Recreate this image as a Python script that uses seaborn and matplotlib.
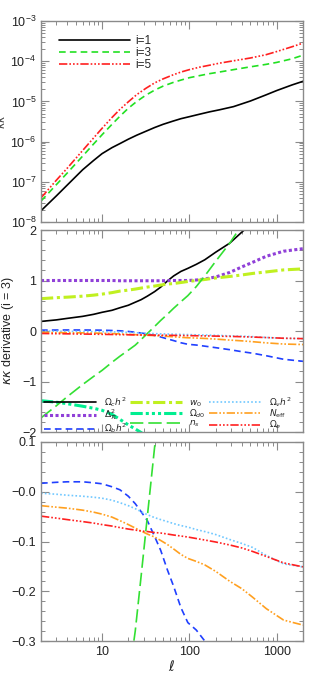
import numpy as np
import pandas as pd
import matplotlib
matplotlib.use("Agg")
import matplotlib.pyplot as plt
import matplotlib.ticker as mticker
import seaborn as sns

# ---------------- data ----------------
ell_top = [2, 3, 4, 6, 8, 10, 13, 16, 20, 25, 32, 40, 50, 65, 80, 100, 130, 170, 220, 320,
           500, 750, 1000, 1500, 2000]
log_kk_i1 = [-7.72, -7.35, -7.08, -6.70, -6.47, -6.30, -6.15, -6.05, -5.94, -5.84, -5.74,
             -5.65, -5.57, -5.49, -5.43, -5.38, -5.32, -5.26, -5.21, -5.13, -4.99, -4.84,
             -4.73, -4.59, -4.50]
log_kk_i3 = [-7.48, -7.07, -6.78, -6.36, -6.06, -5.83, -5.57, -5.37, -5.17, -5.00, -4.84,
             -4.72, -4.62, -4.53, -4.47, -4.41, -4.36, -4.31, -4.27, -4.21, -4.14, -4.08,
             -4.03, -3.94, -3.85]
log_kk_i5 = [-7.40, -6.96, -6.66, -6.22, -5.91, -5.67, -5.40, -5.20, -5.01, -4.83, -4.67,
             -4.54, -4.44, -4.34, -4.27, -4.21, -4.15, -4.10, -4.05, -3.99, -3.92, -3.84,
             -3.76, -3.64, -3.55]
top_labels = ["i=1", "i=3", "i=5"]

ell_d = [2, 3, 4, 6, 8, 10, 13, 16, 20, 24, 28, 33, 40, 47, 56, 66, 80, 96, 120, 150, 200,
         290, 400, 530, 760, 1200, 2000]
nan = np.nan
d_omch2 = [0.19, 0.22, 0.25, 0.29, 0.33, 0.37, 0.41, 0.46, 0.51, 0.57, 0.62, 0.69, 0.78, 0.87,
           0.99, 1.09, 1.18, 1.24, 1.32, 1.41, 1.56, 1.74, 1.96, 2.15, nan, nan, nan]
d_delta = [1.0, 1.0, 1.0, 1.0, 1.0, 1.0, 1.0, 0.995, 0.995, 0.995, 0.995, 0.995, 0.995, 0.995,
           0.997, 1.0, 1.0, 1.0, 1.01, 1.03, 1.07, 1.16, 1.27, 1.36, 1.48, 1.58, 1.63]
d_ombh2 = [0.017, 0.019, 0.020, 0.020, 0.018, 0.016, 0.010, 0.004, -0.009, -0.024, -0.040,
           -0.058, -0.090, -0.118, -0.157, -0.190, -0.233, -0.263, -0.278, -0.300, -0.33,
           -0.37, -0.41, -0.44, -0.49, -0.56, -0.60]
d_w0 = [0.64, 0.66, 0.67, 0.69, 0.71, 0.73, 0.76, 0.79, 0.81, 0.83, 0.85, 0.87, 0.89, 0.91,
        0.93, 0.94, 0.96, 0.98, 1.00, 1.02, 1.05, 1.08, 1.11, 1.14, 1.17, 1.21, 1.23]
d_omd0 = [-1.38, -1.41, -1.44, -1.49, -1.53, -1.57, -1.65, -1.75, -1.86, -1.94, -2.01, -2.10,
          nan, nan, nan, nan, nan, nan, nan, nan, nan, nan, nan, nan, nan, nan, nan]
d_ns = [-1.72, -1.48, -1.30, -1.06, -0.90, -0.78, -0.62, -0.50, -0.38, -0.28, -0.17, -0.05,
        0.09, 0.21, 0.33, 0.45, 0.58, 0.70, 0.88, 1.09, 1.38, 1.74, 2.10, nan, nan, nan, nan]
d_omnuh2 = [-0.003, -0.005, -0.007, -0.009, -0.011, -0.013, -0.017, -0.022, -0.028, -0.034,
            -0.040, -0.046, -0.052, -0.056, -0.060, -0.064, -0.068, -0.071, -0.076, -0.080,
            -0.086, -0.096, -0.104, -0.112, -0.128, -0.145, -0.151]
d_neff = [-0.028, -0.031, -0.033, -0.037, -0.041, -0.045, -0.051, -0.058, -0.066, -0.073,
          -0.079, -0.085, -0.091, -0.098, -0.106, -0.115, -0.126, -0.134, -0.140, -0.147,
          -0.160, -0.180, -0.195, -0.212, -0.235, -0.258, -0.268]
d_ome = [-0.049, -0.053, -0.056, -0.060, -0.063, -0.066, -0.069, -0.072, -0.075, -0.077,
         -0.079, -0.080, -0.082, -0.083, -0.085, -0.087, -0.089, -0.091, -0.094, -0.097,
         -0.101, -0.107, -0.113, -0.120, -0.130, -0.143, -0.151]
deriv_labels = [r"$\Omega_c h^2$", r"$\Delta^2_{\mathcal{R}}$", r"$\Omega_b h^2$",
                r"$w_0$", r"$\Omega_{d0}$", r"$n_s$",
                r"$\Omega_\nu h^2$", r"$N_{\rm eff}$", r"$\Omega_e$"]

# ---------------- styling ----------------
sns.set_style("ticks")
plt.rcParams["font.family"] = ["Liberation Sans", "DejaVu Sans"]
plt.rcParams["mathtext.fontset"] = "dejavusans"
plt.rcParams["axes.unicode_minus"] = True

frame_col = "#8a8a8a"

top_styles = [
    dict(color="black", linestyle="-", lw=1.2),
    dict(color="#22e022", linestyle=(0, (4, 2.5)), lw=1.2),
    dict(color="#ff2020", linestyle=(0, (5, 1.2, 1, 1.2, 1, 1.2, 1, 1.2)), lw=1.2),
]
deriv_styles = [
    dict(color="black", linestyle="-", lw=1.2),
    dict(color="#9040d8", linestyle=(0, (1, 0.8)), lw=2.2),
    dict(color="#2040ff", linestyle=(0, (4, 2.5)), lw=1.2),
    dict(color="#c0f020", linestyle=(0, (4, 1.2, 1, 1.2)), lw=2.2),
    dict(color="#00ee90", linestyle=(0, (4, 1, 1, 1, 1, 1, 1, 1)), lw=2.2),
    dict(color="#33e033", linestyle=(0, (8, 3)), lw=1.2),
    dict(color="#70c8ff", linestyle=(0, (1, 1.3)), lw=1.2),
    dict(color="#ffa020", linestyle=(0, (5, 1.2, 1, 1.2, 1, 1.2)), lw=1.2),
    dict(color="#ff2020", linestyle=(0, (5, 1.2, 1, 1.2, 1, 1.2, 1, 1.2)), lw=1.2),
]
deriv_series = [d_omch2, d_delta, d_ombh2, d_w0, d_omd0, d_ns, d_omnuh2, d_neff, d_ome]

W, H = 312, 676
fig = plt.figure(figsize=(W / 100, H / 100), dpi=100)
L, R = 41 / W, 303 / W
ax1 = fig.add_axes([L, 1 - 222 / H, R - L, (222 - 21) / H])
ax2 = fig.add_axes([L, 1 - 432 / H, R - L, (432 - 230) / H])
ax3 = fig.add_axes([L, 1 - 641 / H, R - L, (641 - 442) / H])

# top panel
top_df = pd.DataFrame({"ell": ell_top,
                       "i=1": np.power(10.0, log_kk_i1),
                       "i=3": np.power(10.0, log_kk_i3),
                       "i=5": np.power(10.0, log_kk_i5)})
for lab, st in zip(top_labels, top_styles):
    sns.lineplot(data=top_df, x="ell", y=lab, ax=ax1, label=lab, errorbar=None, **st)
ax1.set_yscale("log")
ax1.set_ylim(1e-8, 1e-3)
ax1.legend(loc="upper left", frameon=False, fontsize=8.5, handlelength=6.0,
           handletextpad=0.5, labelspacing=0.0, borderaxespad=0.0,
           bbox_to_anchor=(0.05, 0.955))

# derivative panels
deriv_df = pd.DataFrame({"ell": ell_d})
for lab, ser in zip(deriv_labels, deriv_series):
    deriv_df[lab] = ser

for ax in (ax2, ax3):
    for lab, st in zip(deriv_labels, deriv_styles):
        sns.lineplot(data=deriv_df, x="ell", y=lab, ax=ax,
                     label=lab if ax is ax2 else None, errorbar=None, **st)

ax2.set_ylim(-2, 2)
ax2.yaxis.set_major_locator(mticker.MultipleLocator(1))
ax2.yaxis.set_minor_locator(mticker.MultipleLocator(0.2))
leg = ax2.legend(loc="lower left", ncol=3, frameon=False, fontsize=6.5,
                 handlelength=5.8, handletextpad=0.8, columnspacing=0.35,
                 labelspacing=-0.12, borderaxespad=0.0, borderpad=0.2,
                 bbox_to_anchor=(0.005, -0.025))

ax3.set_ylim(-0.3, 0.1)
ax3.yaxis.set_major_locator(mticker.MultipleLocator(0.1))
ax3.yaxis.set_minor_locator(mticker.MultipleLocator(0.02))


def fmt3(v, pos):
    s = "%.1f" % v
    if s.startswith("-"):
        s = "\u2212" + s[1:]
    if abs(v) < 1e-9:
        s = "\u22120.0"
    return s


ax3.yaxis.set_major_formatter(mticker.FuncFormatter(fmt3))

for ax in (ax1, ax2, ax3):
    ax.set_xscale("log")
    ax.set_xlim(2, 2000)
    ax.tick_params(which="both", direction="in", top=True, right=True,
                   color=frame_col, labelsize=9, labelcolor="#222222")
    ax.tick_params(which="major", length=6, width=0.8)
    ax.tick_params(which="minor", length=3, width=0.7)
    for sp in ax.spines.values():
        sp.set_color(frame_col)
        sp.set_linewidth(1.0)
    ax.set_xlabel("")
    ax.set_ylabel("")

ax1.tick_params(axis="x", which="both", labelbottom=False)
ax2.tick_params(axis="x", which="both", labelbottom=False)
ax3.xaxis.set_major_formatter(mticker.FuncFormatter(lambda v, p: "%d" % v))

ax1.set_ylabel(r"$\kappa\kappa$", fontsize=8, color="#444444")
ax1.yaxis.set_label_coords(-0.13, 0.5)
ax2.set_ylabel(r"$\kappa\kappa$ derivative (i = 3)", fontsize=9, color="#222222")
ax2.yaxis.set_label_coords(-0.095, 0.5)
ax3.set_ylabel(r"$\kappa\kappa$ derivative (i = 3)", fontsize=9, color="#222222")
ax3.yaxis.set_label_coords(-0.148, 0.5)
ax3.set_xlabel(r"$\ell$", fontsize=10)
ax3.xaxis.set_label_coords(0.5, -0.09)

fig.savefig("out.png", dpi=100)
